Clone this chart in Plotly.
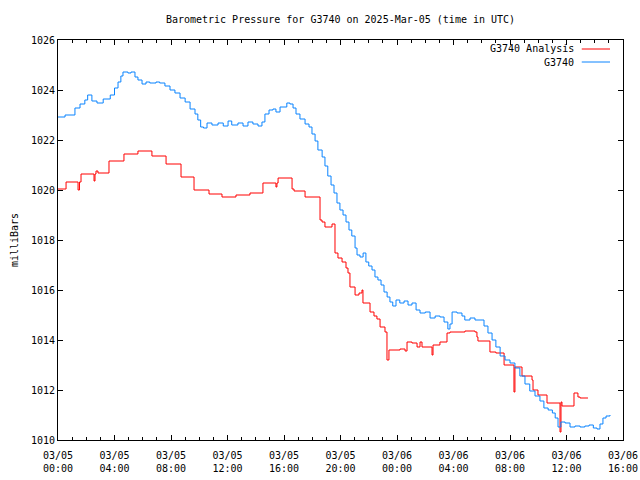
import pandas as pd
import plotly.graph_objects as go

# G3740 observed pressure: hours after 2025-03-05 00:00 UTC, millibars
obs_hours = [0.0, 0.5, 1.2, 1.56, 1.9, 2.1, 2.4, 2.76, 3.2, 3.7, 4.0, 4.25, 4.45, 4.6, 4.95, 5.17,
             5.45, 5.66, 5.95, 6.23, 6.5, 6.94, 7.2, 7.57, 7.93, 8.28, 8.64, 9.0, 9.35, 9.7, 9.9,
             10.1, 10.3, 10.55, 10.9, 11.33, 11.7, 12.04, 12.3, 12.74, 13.1, 13.45, 13.8, 14.16,
             14.44, 14.65, 14.94, 15.22, 15.43, 15.72, 15.93, 16.2, 16.42, 16.64, 16.85, 17.13,
             17.49, 17.77, 17.98, 18.2, 18.4, 18.7, 18.9, 19.1, 19.33, 19.54, 19.75, 19.96, 20.18,
             20.39, 20.6, 20.8, 21.03, 21.17, 21.38, 21.6, 21.8, 22.0, 22.23, 22.44, 22.65, 22.87,
             23.08, 23.3, 23.5, 23.7, 23.93, 24.2, 24.5, 24.78, 25.06, 25.35, 25.63, 26.0, 26.34,
             26.7, 27.04, 27.33, 27.6, 27.75, 27.9, 28.25, 28.6, 28.8, 29.17, 29.52, 29.88, 30.16,
             30.44, 30.73, 31.0, 31.3, 31.65, 32.0, 32.35, 32.7, 33.06, 33.4, 33.77, 34.12, 34.4,
             34.7, 35.0, 35.2, 35.4, 35.6, 35.9, 36.25, 36.6, 36.96, 37.3, 37.6, 37.9, 38.16,
             38.37, 38.58, 38.8, 39.08]
obs_mb = [1022.92, 1023.00, 1023.28, 1023.44, 1023.60, 1023.80, 1023.56, 1023.48, 1023.64, 1023.80,
          1024.08, 1024.32, 1024.56, 1024.72, 1024.68, 1024.72, 1024.52, 1024.40, 1024.24, 1024.32,
          1024.28, 1024.32, 1024.28, 1024.16, 1024.00, 1023.88, 1023.68, 1023.52, 1023.24, 1023.04,
          1022.80, 1022.52, 1022.48, 1022.68, 1022.60, 1022.68, 1022.56, 1022.76, 1022.60, 1022.68,
          1022.56, 1022.72, 1022.64, 1022.56, 1022.72, 1023.04, 1023.20, 1023.24, 1023.12, 1023.32,
          1023.32, 1023.48, 1023.44, 1023.28, 1023.04, 1022.84, 1022.64, 1022.52, 1022.24, 1021.96,
          1021.60, 1021.32, 1020.96, 1020.56, 1020.20, 1019.88, 1019.48, 1019.20, 1019.00, 1018.72,
          1018.40, 1018.16, 1017.68, 1017.40, 1017.32, 1017.48, 1017.12, 1016.96, 1016.80, 1016.52,
          1016.40, 1016.20, 1015.92, 1015.72, 1015.52, 1015.36, 1015.60, 1015.48, 1015.56, 1015.40,
          1015.48, 1015.20, 1015.08, 1015.12, 1014.88, 1014.96, 1014.92, 1014.72, 1014.44, 1014.64,
          1015.12, 1015.08, 1014.96, 1014.80, 1014.88, 1014.80, 1014.80, 1014.56, 1014.28, 1014.00,
          1013.72, 1013.36, 1013.20, 1013.08, 1012.88, 1012.56, 1012.24, 1011.96, 1011.76, 1011.56,
          1011.28, 1011.20, 1011.08, 1010.88, 1010.52, 1010.72, 1010.68, 1010.52, 1010.56, 1010.52,
          1010.56, 1010.60, 1010.48, 1010.44, 1010.64, 1010.88, 1010.96, 1011.00]

# G3740 Analysis (stepped)
ana_hours = [0.0, 0.57, 1.42, 1.52, 1.63, 2.55, 2.62, 2.69, 2.83, 3.61, 4.67, 5.66, 6.65, 7.65,
             8.71, 9.63, 10.69, 11.61, 12.6, 13.59, 14.51, 15.43, 15.5, 15.58, 16.57, 16.71, 17.49,
             18.55, 18.69, 18.9, 19.4, 19.61, 19.82, 20.11, 20.39, 20.53, 20.67, 21.03, 21.31,
             21.52, 21.59, 22.09, 22.37, 22.58, 22.8, 23.15, 23.29, 23.43, 24.21, 24.57, 24.71,
             25.06, 25.42, 25.63, 25.77, 26.48, 26.55, 27.04, 27.54, 27.75, 28.81, 29.52, 29.66,
             29.73, 30.58, 31.0, 31.58, 32.28, 32.35, 32.85, 33.56, 33.63, 33.98, 34.62, 35.54,
             35.61, 35.68, 36.53, 36.81, 36.96, 37.52]
ana_mb = [1020.04, 1020.32, 1020.00, 1020.32, 1020.64, 1020.36, 1020.64, 1020.76, 1020.68, 1021.16,
          1021.44, 1021.56, 1021.36, 1021.04, 1020.52, 1020.00, 1019.84, 1019.72, 1019.80, 1019.88,
          1020.28, 1020.12, 1020.28, 1020.48, 1020.04, 1019.96, 1019.72, 1018.80, 1018.72, 1018.52,
          1018.64, 1017.48, 1017.28, 1017.12, 1016.88, 1016.68, 1016.12, 1015.80, 1015.88, 1016.00,
          1015.48, 1015.12, 1014.96, 1014.84, 1014.52, 1014.32, 1013.20, 1013.60, 1013.64, 1013.56,
          1013.92, 1013.88, 1013.72, 1013.92, 1013.72, 1013.40, 1013.80, 1013.92, 1014.28, 1014.32,
          1014.36, 1014.32, 1014.12, 1013.96, 1013.52, 1013.48, 1013.00, 1011.92, 1012.92, 1012.56,
          1012.40, 1012.00, 1011.80, 1011.48, 1010.32, 1011.52, 1011.36, 1011.88, 1011.72, 1011.68,
          1011.68]

tick_hours = [0, 4, 8, 12, 16, 20, 24, 28, 32, 36, 40]
tick_labels = ["03/05<br>00:00", "03/05<br>04:00", "03/05<br>08:00", "03/05<br>12:00",
               "03/05<br>16:00", "03/05<br>20:00", "03/06<br>00:00", "03/06<br>04:00",
               "03/06<br>08:00", "03/06<br>12:00", "03/06<br>16:00"]
y_ticks = [1010, 1012, 1014, 1016, 1018, 1020, 1022, 1024, 1026]

base = pd.Timestamp("2025-03-05 00:00")
to_t = lambda hs: [base + pd.Timedelta(hours=h) for h in hs]

RED = "#ff0000"
BLUE = "#0a84ff"
FONT = "DejaVu Sans Mono"

fig = go.Figure()
fig.add_trace(go.Scatter(x=to_t(ana_hours), y=ana_mb, mode="lines", name="G3740 Analysis",
                         line=dict(color=RED, width=1, shape="hv"), showlegend=False))
fig.add_trace(go.Scatter(x=to_t(obs_hours), y=obs_mb, mode="lines", name="G3740",
                         line=dict(color=BLUE, width=1, shape="hv"), showlegend=False))

axis_common = dict(showgrid=False, zeroline=False, showline=True, linecolor="black", linewidth=1,
                   mirror="allticks", ticks="inside", tickcolor="black", ticklen=5,
                   automargin=False,
                   tickfont=dict(family=FONT, size=10, color="black"))

fig.update_xaxes(type="date", range=[base, base + pd.Timedelta(hours=40)],
                 tickmode="array", tickvals=to_t(tick_hours), ticktext=tick_labels,
                 ticklabelstandoff=6,
                 minor=dict(dtick=3600000, ticks="inside", ticklen=3, tickcolor="black"),
                 **axis_common)
fig.update_yaxes(range=[1010, 1026], tickmode="array", tickvals=y_ticks,
                 ticktext=[str(v) for v in y_ticks],
                 title=dict(text="milliBars", font=dict(family=FONT, size=10, color="black"), standoff=10),
                 **axis_common)

# legend drawn gnuplot-style: text then line sample
legend_rows = [("G3740 Analysis", RED, 0.9775), ("G3740", BLUE, 0.945)]
for name, col, yy in legend_rows:
    fig.add_annotation(xref="paper", yref="paper", x=0.917, y=yy, text=name, showarrow=False,
                       xanchor="right", yanchor="middle", font=dict(family=FONT, size=10, color="black"))
    fig.add_shape(type="line", xref="paper", yref="paper", x0=0.927, x1=0.977, y0=yy, y1=yy,
                  line=dict(color=col, width=1))

fig.update_layout(
    width=640, height=480,
    margin=dict(l=58, r=17, t=40, b=40, autoexpand=False),
    paper_bgcolor="white", plot_bgcolor="white",
    title=dict(text="Barometric Pressure for G3740 on 2025-Mar-05 (time in UTC)",
               x=0.5, xref="paper", xanchor="center", y=1 - 19 / 480, yanchor="middle",
               font=dict(family=FONT, size=10, color="black")),
    font=dict(family=FONT, size=10, color="black"),
)

fig.write_html("out.html")
